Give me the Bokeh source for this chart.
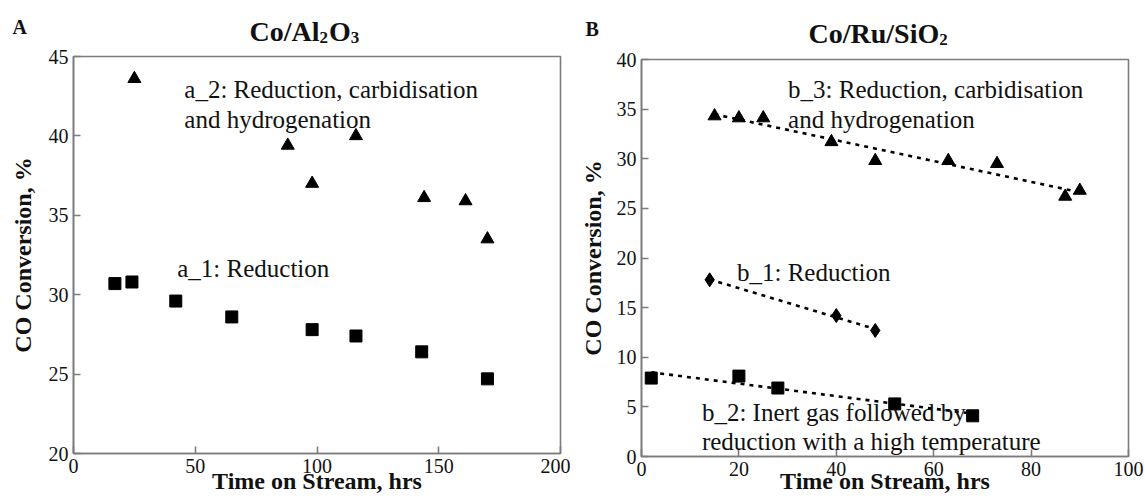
import numpy as np
from bokeh.plotting import figure
from bokeh.models import Label, Range1d, FixedTicker
from bokeh.layouts import row, column
from bokeh.embed import file_html
from bokeh.resources import INLINE

# ---- Co/Al2O3: CO conversion (%) vs time on stream (h) ----
a1_time = [17, 24, 42, 65, 98, 116, 143, 170]
a1_conv = [30.7, 30.8, 29.6, 28.6, 27.8, 27.4, 26.4, 24.7]
a2_time = [25, 88, 98, 116, 144, 161, 170]
a2_conv = [43.6, 39.4, 37.0, 40.0, 36.1, 35.9, 33.5]

# ---- Co/Ru/SiO2 ----
b1_time = [14, 40, 48]
b1_conv = [17.8, 14.2, 12.7]
b2_time = [2, 20, 28, 52, 68]
b2_conv = [7.9, 8.1, 6.9, 5.3, 4.1]
b3_time = [15, 20, 25, 39, 48, 63, 73, 87, 90]
b3_conv = [34.3, 34.1, 34.1, 31.7, 29.8, 29.8, 29.5, 26.2, 26.8]

a_xticks = [0, 50, 100, 150, 200]
a_yticks = [20, 25, 30, 35, 40, 45]
b_xticks = [0, 20, 40, 60, 80, 100]
b_yticks = [0, 5, 10, 15, 20, 25, 30, 35, 40]

SERIF = "Liberation Serif"
FRAME = "#7c7c7c"
INK = "#111111"
H = 499
OVERLAP = 14   # plot canvas slides up under the header strip by this much


def make_header(width, height):
    """Strip above a panel whose data units are canvas pixels (y downwards)."""
    h = figure(width=width, height=height, x_range=Range1d(0, width),
               y_range=Range1d(height, 0), output_backend="svg",
               toolbar_location=None, min_border=0, frame_align=False,
               x_axis_type=None, y_axis_type=None)
    h.grid.visible = False
    h.outline_line_color = None
    return h


def make_panel(width, frame_top, left, right, bottom, xr, yr, xt, yt,
               ylab_standoff, xlab_standoff):
    p = figure(width=width, height=H - frame_top + OVERLAP,
               x_range=Range1d(*xr), y_range=Range1d(*yr),
               output_backend="svg", toolbar_location=None, frame_align=False,
               min_border_left=left, min_border_right=right,
               min_border_top=OVERLAP, min_border_bottom=bottom,
               margin=(-OVERLAP, 0, 0, 0))
    p.border_fill_color = None
    p.grid.visible = False
    p.outline_line_color = FRAME
    p.outline_line_width = 1.6
    for ax in (p.xaxis[0], p.yaxis[0]):
        ax.axis_line_color = FRAME
        ax.axis_line_width = 1.6
        ax.major_tick_line_color = FRAME
        ax.major_tick_line_width = 1.6
        ax.major_tick_in = 7
        ax.major_tick_out = 0
        ax.minor_tick_line_color = None
        ax.major_label_text_font = SERIF
        ax.major_label_text_font_size = "20px"
        ax.major_label_text_color = INK
        ax.axis_label_text_font = SERIF
        ax.axis_label_text_font_size = "24px"
        ax.axis_label_text_font_style = "bold"
        ax.axis_label_text_color = INK
    p.xaxis.ticker = FixedTicker(ticks=xt)
    p.yaxis.ticker = FixedTicker(ticks=yt)
    p.xaxis.major_label_standoff = 5
    p.yaxis.major_label_standoff = 5
    p.xaxis.axis_label = "Time on Stream, hrs"
    p.xaxis.axis_label_standoff = xlab_standoff
    p.yaxis.axis_label = "CO Conversion, %"
    p.yaxis.axis_label_standoff = ylab_standoff
    return p


def note(p, x, y, text, size=25):
    p.add_layout(Label(x=x, y=y, text=text, text_font=SERIF,
                       text_font_size=f"{size}px", text_color=INK,
                       text_baseline="alphabetic"))


def trend(p, xs, ys):
    k, c = np.polyfit(xs, ys, 1)
    x0, x1 = min(xs), max(xs)
    p.line([x0, x1], [k * x0 + c, k * x1 + c], line_color="black",
           line_width=2.6, line_dash="4 5")


def head_text(h, x, y, text, size, bold=True):
    h.add_layout(Label(x=x, y=y, text=text, text_font=SERIF,
                       text_font_size=f"{size}px",
                       text_font_style="bold" if bold else "normal",
                       text_color=INK, text_baseline="alphabetic"))


def chem_title(h, x, y, parts, size):
    """Bold formula: list of (text, is_subscript) pieces set side by side."""
    widths = {"C": .722, "o": .5, "/": .278, "A": .722, "l": .278, "O": .778,
              "R": .722, "u": .556, "S": .556, "i": .278, "2": .5, "3": .5}
    sub = round(size * 0.62)
    for txt, is_sub in parts:
        fs = sub if is_sub else size
        head_text(h, x, y + (6 if is_sub else 0), txt, fs)
        x += sum(widths.get(ch, .5) for ch in txt) * fs + (1 if is_sub else 0)


# ================= Panel A : Co/Al2O3 =================
A_W, A_TOP, A_BOT = 570, 56, 453
hA = make_header(A_W, A_TOP)
pa = make_panel(A_W, A_TOP, 73, A_W - 560, H - A_BOT,
                (0, 200), (20, 45), a_xticks, a_yticks, 10, -8)
pa.scatter(a2_time, a2_conv, marker="triangle", size=13, color="black")
pa.scatter(a1_time, a1_conv, marker="square", size=12, color="black")

note(pa, 45.5, 42.95, "a_2: Reduction, carbidisation")
note(pa, 45.5, 41.05, "and hydrogenation")
note(pa, 42.6, 31.65, "a_1: Reduction")

head_text(hA, 12, 26, "A", 20)
chem_title(hA, 249, 31, [("Co/Al", False), ("2", True), ("O", False), ("3", True)], 28)

# ================= Panel B : Co/Ru/SiO2 =================
OFF = 570
B_W, B_TOP, B_BOT = 1145 - OFF, 59, 456
hB = make_header(B_W, B_TOP)
pb = make_panel(B_W, B_TOP, 641 - OFF, 1145 - 1128, H - B_BOT,
                (0, 100), (0, 40), b_xticks, b_yticks, 8, -11)

trend(pb, b3_time, b3_conv)
trend(pb, b1_time, b1_conv)
trend(pb, b2_time, b2_conv)
pb.scatter(b3_time, b3_conv, marker="triangle", size=13, color="black")
pb.scatter(b1_time, b1_conv, marker="diamond", size=14, color="black")
pb.scatter(b2_time, b2_conv, marker="square", size=12, color="black")

note(pb, 30.1, 37.0, "b_3: Reduction, carbidisation")
note(pb, 30.1, 34.0, "and hydrogenation")
note(pb, 19.6, 18.5, "b_1: Reduction")
note(pb, 12.4, 4.4, "b_2: Inert gas followed by")
note(pb, 12.4, 1.47, "reduction with a high temperature")

head_text(hB, 585 - OFF, 28, "B", 20)
chem_title(hB, 808 - OFF, 32.5, [("Co/Ru/SiO", False), ("2", True)], 28)

layout = row(column(hA, pa, spacing=0), column(hB, pb, spacing=0), spacing=0)
open("out.html", "w").write(file_html(layout, INLINE))
